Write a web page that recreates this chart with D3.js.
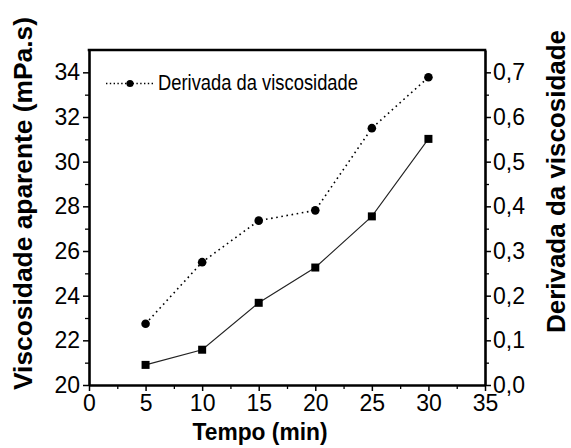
<!DOCTYPE html>
<html>
<head>
<meta charset="utf-8">
<script src="https://cdn.jsdelivr.net/npm/d3@7"></script>
<style>
  html, body { margin: 0; padding: 0; background: #fff; }
  svg { display: block; }
  text { font-family: "Liberation Sans", Arial, sans-serif; fill: #000; }
</style>
</head>
<body>
<script>
// ---- data ----
const tempo = [5, 10, 15, 20, 25, 30];
const viscosidade = [20.9, 21.58, 23.68, 25.26, 27.55, 31.02];
const derivada = [0.137, 0.275, 0.368, 0.391, 0.575, 0.689];
const xTicks = [0, 5, 10, 15, 20, 25, 30, 35];
const yLeftTicks = [20, 22, 24, 26, 28, 30, 32, 34];
const yRightTicks = [0.0, 0.1, 0.2, 0.3, 0.4, 0.5, 0.6, 0.7];
const legendLabel = "Derivada da viscosidade";
const xTitle = "Tempo (min)";
const yLeftTitle = "Viscosidade aparente (mPa.s)";
const yRightTitle = "Derivada da viscosidade";

const W = 571, H = 448;
const L = 89, R = 485, T = 50, B = 385;

const svg = d3.select("body").append("svg").attr("width", W).attr("height", H);

const x = d3.scaleLinear().domain([0, 35]).range([L, R]);
const yL = d3.scaleLinear().domain([20, 35]).range([B, T]);
const yR = d3.scaleLinear().domain([0, 0.75]).range([B, T]);

const fmtR = v => d3.format(".1f")(v).replace(".", ",");

function styleAxis(g) {
  g.select(".domain").attr("stroke", "#000").attr("stroke-width", 2.6);
  g.selectAll(".tick line").attr("stroke", "#000").attr("stroke-width", 1.5);
  g.selectAll(".tick text").attr("font-size", 23).attr("fill", "#000")
    .attr("font-family", "'Liberation Sans', Arial, sans-serif");
}

// minor ticks
const xMinor = d3.range(2.5, 35, 5);
const yLMinor = d3.range(21, 35, 2);
const yRMinor = d3.range(0.05, 0.75, 0.1);

svg.append("g").attr("transform", `translate(0,${B})`)
  .call(d3.axisBottom(x).tickValues(xMinor).tickSize(4).tickFormat("").tickSizeOuter(0))
  .call(g => { g.select(".domain").remove(); g.selectAll("line").attr("stroke", "#000").attr("stroke-width", 1.3); });
svg.append("g").attr("transform", `translate(${L},0)`)
  .call(d3.axisLeft(yL).tickValues(yLMinor).tickSize(4).tickFormat("").tickSizeOuter(0))
  .call(g => { g.select(".domain").remove(); g.selectAll("line").attr("stroke", "#000").attr("stroke-width", 1.3); });
svg.append("g").attr("transform", `translate(${R},0)`)
  .call(d3.axisRight(yR).tickValues(yRMinor).tickSize(4).tickFormat("").tickSizeOuter(0))
  .call(g => { g.select(".domain").remove(); g.selectAll("line").attr("stroke", "#000").attr("stroke-width", 1.3); });

// major axes
const gx = svg.append("g").attr("transform", `translate(0,${B})`)
  .call(d3.axisBottom(x).tickValues(xTicks).tickSize(6).tickSizeOuter(0).tickPadding(4).tickFormat(d3.format("d")));
styleAxis(gx);

const gyl = svg.append("g").attr("transform", `translate(${L},0)`)
  .call(d3.axisLeft(yL).tickValues(yLeftTicks).tickSize(6).tickSizeOuter(0).tickPadding(3).tickFormat(d3.format("d")));
styleAxis(gyl);

const gyr = svg.append("g").attr("transform", `translate(${R},0)`)
  .call(d3.axisRight(yR).tickValues(yRightTicks).tickSize(6).tickSizeOuter(0).tickPadding(2).tickFormat(fmtR));
styleAxis(gyr);

// top border
svg.append("line")
  .attr("x1", x(0) - 1.3).attr("x2", x(35) + 1.3)
  .attr("y1", yL(35)).attr("y2", yL(35))
  .attr("stroke", "#000").attr("stroke-width", 2.6);

// viscosity series (solid, squares)
const lineL = d3.line().x((d, i) => x(tempo[i])).y(d => yL(d));
svg.append("path").datum(viscosidade)
  .attr("d", lineL).attr("fill", "none").attr("stroke", "#222").attr("stroke-width", 1.1);
svg.selectAll(".sq").data(viscosidade).enter().append("rect")
  .attr("x", (d, i) => x(tempo[i]) - 4).attr("y", d => yL(d) - 4)
  .attr("width", 8).attr("height", 8).attr("fill", "#000");

// derivative series (dotted, circles)
const lineR = d3.line().x((d, i) => x(tempo[i])).y(d => yR(d));
svg.append("path").datum(derivada)
  .attr("d", lineR).attr("fill", "none").attr("stroke", "#000")
  .attr("stroke-width", 1.6).attr("stroke-dasharray", "1.6,3.6");
svg.selectAll(".ci").data(derivada).enter().append("circle")
  .attr("cx", (d, i) => x(tempo[i])).attr("cy", d => yR(d))
  .attr("r", 4.3).attr("fill", "#000");

// legend
const lg = svg.append("g");
lg.append("line").attr("x1", 106).attr("x2", 153).attr("y1", 83.5).attr("y2", 83.5)
  .attr("stroke", "#000").attr("stroke-width", 1.4).attr("stroke-dasharray", "1.4,2.4");
lg.append("circle").attr("cx", 130).attr("cy", 83.5).attr("r", 3.6).attr("fill", "#000");
lg.append("text").attr("x", 158).attr("y", 90).attr("font-size", 22)
  .attr("textLength", 200).attr("lengthAdjust", "spacingAndGlyphs").text(legendLabel);

// axis titles
svg.append("text").attr("x", 260).attr("y", 440).attr("text-anchor", "middle")
  .attr("font-size", 24).attr("font-weight", "bold")
  .attr("textLength", 135).attr("lengthAdjust", "spacingAndGlyphs").text(xTitle);

svg.append("text").attr("transform", "translate(32,203.5) rotate(-90)")
  .attr("text-anchor", "middle").attr("font-size", 26).attr("font-weight", "bold")
  .attr("textLength", 373).attr("lengthAdjust", "spacingAndGlyphs").text(yLeftTitle);

svg.append("text").attr("transform", "translate(565,181.5) rotate(-90)")
  .attr("text-anchor", "middle").attr("font-size", 26).attr("font-weight", "bold")
  .attr("textLength", 303).attr("lengthAdjust", "spacingAndGlyphs").text(yRightTitle);
</script>
</body>
</html>
